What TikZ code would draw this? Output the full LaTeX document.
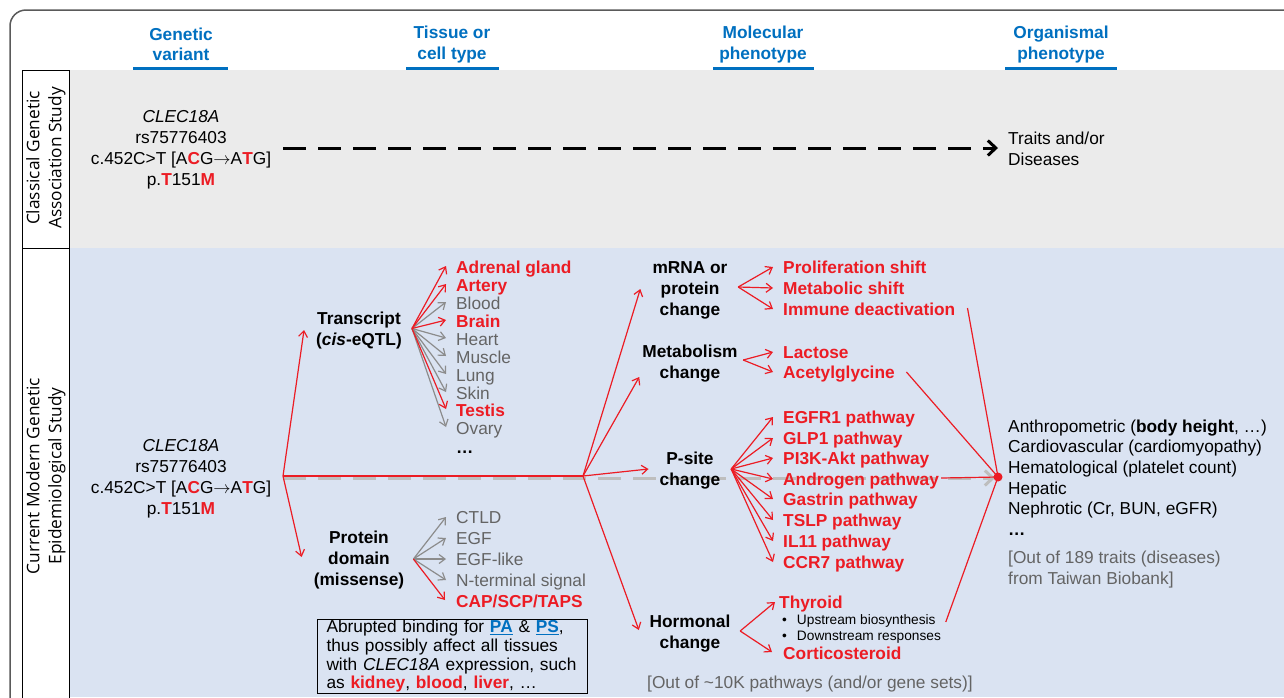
\documentclass[tikz,border=0pt]{standalone}
\usepackage{fontspec}
\setmainfont{Liberation Sans}
\newfontfamily\labfont{Open Sans}
\usetikzlibrary{arrows.meta,calc}
\definecolor{myred}{RGB}{236,28,36}
\definecolor{hblue}{RGB}{0,112,192}
\definecolor{tgray}{RGB}{100,100,100}
\definecolor{agray}{RGB}{140,140,140}
\definecolor{dgray}{RGB}{190,190,190}
\definecolor{pgray}{RGB}{235,235,235}
\definecolor{pblue}{RGB}{218,227,242}
\definecolor{framec}{RGB}{90,90,90}
\newcommand\redb[1]{\textcolor{myred}{\textbf{#1}}}
\newcommand\varr{\ensuremath{\rightarrow}}
\pgfdeclarelayer{bg}
\pgfsetlayers{bg,main}
\begin{document}
\begin{tikzpicture}[x=1pt,y=-1pt,
  txt/.style={inner sep=0pt, font=\fontsize{17.3}{21}\selectfont},
  hdr/.style={txt, align=center, text=hblue, font=\bfseries\fontsize{17.3}{20.5}\selectfont},
  ctr/.style={txt, align=center},
  bctr/.style={txt, align=center, font=\bfseries\fontsize{17.3}{21}\selectfont},
  ln/.style={txt, anchor=west, text height=16.5pt, text depth=3.5pt},
  rln/.style={ln, text=myred, font=\bfseries\fontsize{17.3}{21}\selectfont},
  gln/.style={ln, text=tgray},
  sln/.style={ln, font=\fontsize{13.7}{16}\selectfont, text height=14pt, text depth=3pt},
  hdrline/.style={hblue, line width=3pt},
  rarr/.style={myred, line width=1.2pt, -{Straight Barb[length=6pt,width=9pt]}},
  garr/.style={agray, line width=1.2pt, -{Straight Barb[length=6pt,width=9pt]}},
  rline/.style={myred, line width=1.2pt},
  kdash/.style={black, line width=3pt, dash pattern=on 23pt off 12pt, -{Straight Barb[length=8pt,width=15pt]}},
  gdash/.style={dgray, line width=3pt, dash pattern=on 23pt off 12pt, -{Straight Barb[length=8pt,width=15pt]}},
  labtxt/.style={inner sep=0pt, rotate=90, align=center, font=\labfont\fontsize{17.3}{22}\selectfont}
]
\useasboundingbox (0,0) rectangle (1284,697);
\begin{pgfonlayer}{bg}
  \fill[white] (0,0) rectangle (1284,697);
  \fill[pgray] (69,70) rectangle (1284,248);
  \fill[pblue] (69,248) rectangle (1284,697);
\end{pgfonlayer}
\clip (0,0) rectangle (1284,697);
% frame
\draw[framec, line width=1.5pt, rounded corners=16pt] (10,720) -- (10,10) -- (1300,10);
% label column
\draw[black, line width=1pt, fill=white] (22,70) rectangle (69,248);
\draw[black, line width=1pt, fill=white] (22,248) rectangle (69,720);
\node[labtxt] (lab1) at (46,158) {Classical Genetic\\Association Study};
\node[labtxt] (lab2) at (46,476) {Current Modern Genetic\\Epidemiological Study};

% headers
\node[hdr] (h1) at (181,44.5) {Genetic\\variant};
\node[hdr] (h2) at (452,44.5) {Tissue or\\cell type};
\node[hdr] (h3) at (763,44.5) {Molecular\\phenotype};
\node[hdr] (h4) at (1061,44.5) {Organismal\\phenotype};
\draw[hdrline] (133,68.5) -- (228,68.5);
\draw[hdrline] (406,68.5) -- (499,68.5);
\draw[hdrline] (713,68.5) -- (814,68.5);
\draw[hdrline] (1005,68.5) -- (1117,68.5);

% upper panel
\node[ctr] (v1) at (181,150) {\textit{CLEC18A}\\rs75776403\\c.452C>T [A\redb{C}G\varr A\redb{T}G]\\p.\redb{T}151\redb{M}};
\node[txt, anchor=west, align=left] (trd) at (1008,149) {Traits and/or\\Diseases};
\draw[kdash] ($(v1.east)+(12,-2)$) -- ($(trd.west)+(-10,-1)$);

% lower panel: variant
\node[ctr] (v2) at (181,479) {\textit{CLEC18A}\\rs75776403\\c.452C>T [A\redb{C}G\varr A\redb{T}G]\\p.\redb{T}151\redb{M}};
\coordinate (V) at (283,476);
\coordinate (M) at (583,476);
\coordinate (Oc) at (998,477);

\node[bctr] (tr) at (359,330.5) {Transcript\\(\textit{cis}-eQTL)};
\node[bctr] (pd) at (359,560) {Protein\\domain\\(missense)};

% tissues
\node[rln] (t1) at (456,267) {Adrenal gland};
\node[rln] (t2) at (456,285) {Artery};
\node[gln] (t3) at (456,303) {Blood};
\node[rln] (t4) at (456,321) {Brain};
\node[gln] (t5) at (456,339) {Heart};
\node[gln] (t6) at (456,357) {Muscle};
\node[gln] (t7) at (456,375) {Lung};
\node[gln] (t8) at (456,393) {Skin};
\node[rln] (t9) at (456,410) {Testis};
\node[gln] (t10) at (456,428) {Ovary};
\node[ln] (t11) at (456,447) {\textbf{…}};

% protein domains
\node[gln] (d1) at (456,517) {CTLD};
\node[gln] (d2) at (456,538) {EGF};
\node[gln] (d3) at (456,559) {EGF-like};
\node[gln] (d4) at (456,580) {N-terminal signal};
\node[rln] (d5) at (456,601) {CAP/SCP/TAPS};

% box
\node[draw=black, line width=1pt, anchor=north west, inner xsep=9pt, inner ysep=0.8pt, text width=252pt, align=left, font=\fontsize{17.3}{18.7}\selectfont] (ab) at (317,619)
 {Abrupted binding for \textcolor{hblue}{\textbf{\underline{PA}}} \& \textcolor{hblue}{\textbf{\underline{PS}}},\\thus possibly affect all tissues\\with \textit{CLEC18A} expression, such\\as \redb{kidney}, \redb{blood}, \redb{liver}, …};

% molecular phenotype nodes
\node[bctr] (mr) at (690,290) {mRNA or\\protein\\change};
\node[bctr] (mb) at (690,363.5) {Metabolism\\change};
\node[bctr] (ps) at (690,471) {P-site\\change};
\node[bctr] (hm) at (690,633.5) {Hormonal\\change};

\node[rln] (pr) at (783,267) {Proliferation shift};
\node[rln] (ms) at (783,288) {Metabolic shift};
\node[rln] (im) at (783,309) {Immune deactivation};
\node[rln] (la) at (783,352) {Lactose};
\node[rln] (ac) at (783,372) {Acetylglycine};
\node[rln] (p1) at (783,417) {EGFR1 pathway};
\node[rln] (p2) at (783,438) {GLP1 pathway};
\node[rln] (p3) at (783,458) {PI3K-Akt pathway};
\node[rln] (an) at (783,479) {Androgen pathway};
\node[rln] (p5) at (783,499) {Gastrin pathway};
\node[rln] (p6) at (783,520) {TSLP pathway};
\node[rln] (p7) at (783,541) {IL11 pathway};
\node[rln] (p8) at (783,562) {CCR7 pathway};
\node[rln] (th) at (779,602) {Thyroid};
\node[sln] (ub) at (782,619) {\textbullet\hspace{10pt}Upstream biosynthesis};
\node[sln] (db) at (782,635) {\textbullet\hspace{10pt}Downstream responses};
\node[rln] (co) at (783,653) {Corticosteroid};
\node[gln] (n10k) at (647,682) {[Out of \textasciitilde 10K pathways (and/or gene sets)]};

% organismal
\node[ln] (o1) at (1008,426) {Anthropometric (\textbf{body height}, …)};
\node[ln] (o2) at (1008,446) {Cardiovascular (cardiomyopathy)};
\node[ln] (o3) at (1008,467) {Hematological (platelet count)};
\node[ln] (o4) at (1008,488) {Hepatic};
\node[ln] (o5) at (1008,508) {Nephrotic (Cr, BUN, eGFR)};
\node[ln] (o6) at (1008,529) {\textbf{…}};
\node[gln] (o7) at (1008,557) {[Out of 189 traits (diseases)};
\node[gln] (o8) at (1008,578) {from Taiwan Biobank]};

% gray dashed through-line (behind text)
\begin{pgfonlayer}{bg}
  \draw[gdash] ($(V)+(0,2)$) -- ($(Oc)+(-3,1)$);
\end{pgfonlayer}

% fan origins
\coordinate (T0) at ($(tr.east)+(10,-2)$);
\coordinate (P0) at ($(pd.east)+(9,-1)$);
\coordinate (R0) at ($(mr.east)+(10.5,-3)$);
\coordinate (B0) at ($(mb.east)+(5.4,-3.5)$);
\coordinate (S0) at ($(ps.east)+(10.7,-2)$);
\coordinate (H0) at ($(hm.east)+(9.6,-2.5)$);

% main red lines
\draw[rarr] (V) -- ($(tr.west)+(-12,-0.5)$);
\draw[rarr] (V) -- ($(pd.west)+(-12,-3)$);
\draw[rline] (V) -- (M);
\draw[rarr] (M) -- ($(mr.west)+(-12,-1)$);
\draw[rarr] (M) -- ($(mb.west)+(-3,13.5)$);
\draw[rarr] (M) -- ($(ps.west)+(-11,-2)$);
\draw[rarr] (M) -- ($(hm.west)+(-10.6,-3.5)$);

% tissue fan
\foreach \n in {t3,t5,t6,t7,t8,t10} \draw[garr] (T0) -- ($(\n.west)+(-10,-1)$);
\foreach \n in {t1,t2,t4,t9} \draw[rarr] (T0) -- ($(\n.west)+(-10,-1)$);
% domain fan
\foreach \n in {d1,d2,d3,d4} \draw[garr] (P0) -- ($(\n.west)+(-10,0)$);
\draw[rarr] (P0) -- ($(d5.west)+(-11,-1)$);
% molecular fans
\foreach \n in {pr,ms,im} \draw[rarr] (R0) -- ($(\n.west)+(-10,0)$);
\foreach \n in {la,ac} \draw[rarr] (B0) -- ($(\n.west)+(-10,0)$);
\foreach \n in {p1,p2,p3,an,p5,p6,p7,p8} \draw[rarr] (S0) -- ($(\n.west)+(-10,0)$);
\draw[rarr] (H0) -- ($(th.west)+(-4,0)$);
\draw[rarr] (H0) -- ($(co.west)+(-11,-1)$);

% convergence lines
\draw[rline] ($(im.east)+(12,-1)$) -- (Oc);
\draw[rline] ($(ac.east)+(11.5,0)$) -- (Oc);
\draw[rline] ($(an.east)+(2,-1)$) -- (Oc);
\draw[rline] ($(ub.east)+(10,3)$) -- (Oc);
\node[circle, fill=myred, inner sep=0pt, minimum size=9pt] (O) at (Oc) {};
\end{tikzpicture}
\end{document}
